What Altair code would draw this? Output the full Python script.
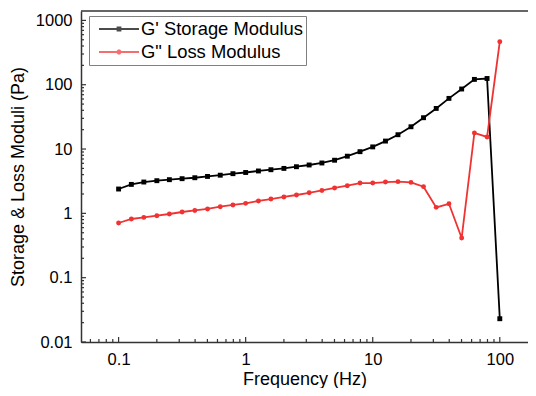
import altair as alt
import pandas as pd

# ---- data ----
freq = [0.1, 0.126, 0.158, 0.2, 0.251, 0.316, 0.398, 0.501, 0.631, 0.794,
        1.0, 1.26, 1.58, 2.0, 2.51, 3.16, 3.98, 5.01, 6.31, 7.94,
        10.0, 12.6, 15.8, 20.0, 25.1, 31.6, 39.8, 50.1, 63.1, 79.4, 100.0]
g_storage = [2.39, 2.82, 3.07, 3.22, 3.34, 3.46, 3.58, 3.75, 3.92, 4.14,
             4.32, 4.56, 4.77, 5.0, 5.31, 5.65, 6.07, 6.70, 7.74, 9.10,
             10.8, 13.3, 16.7, 22.2, 30.7, 42.8, 61.3, 85.8, 121.0, 125.0, 0.023]
g_loss = [0.708, 0.817, 0.865, 0.92, 0.977, 1.05, 1.11, 1.17, 1.27, 1.35,
          1.43, 1.56, 1.67, 1.80, 1.93, 2.09, 2.27, 2.48, 2.69, 2.96,
          2.96, 3.07, 3.11, 3.03, 2.60, 1.24, 1.41, 0.414, 17.8, 15.4, 467.0]
series_names = ["G' Storage Modulus", 'G" Loss Modulus']
series_colors = ["#000000", "#f03232"]

x_labels = [0.1, 1, 10, 100]
y_labels = [0.01, 0.1, 1, 10, 100, 1000]
x_minor = [0.06, 0.07, 0.08, 0.09] + [m * 0.1 for m in range(2, 10)] + \
          [m * 1.0 for m in range(2, 10)] + [m * 10.0 for m in range(2, 10)]
y_minor = [m * 10.0 ** e for e in range(-2, 3) for m in range(2, 10)]

W, H = 447, 331
FONT = "Liberation Sans"
AXC = "#333333"

df = pd.DataFrame({
    "f": freq + freq,
    "v": g_storage + g_loss,
    "series": [series_names[0]] * len(freq) + [series_names[1]] * len(freq),
})

x_scale = alt.Scale(type="log", domain=[0.0506, 166.7], nice=False)
y_scale = alt.Scale(type="log", domain=[0.01, 1400], nice=False)

x_axis = alt.Axis(values=x_labels, format="~g", ticks=False, grid=False,
                  domainColor=AXC, domainWidth=1.5,
                  labelFont=FONT, labelFontSize=16.5, labelColor="black", labelPadding=9,
                  title="Frequency (Hz)", titleFont=FONT, titleFontSize=18,
                  titleFontWeight="normal", titleColor="black", titlePadding=3)
y_axis = alt.Axis(values=y_labels, format="~g", ticks=False, grid=False,
                  domainColor=AXC, domainWidth=1.5,
                  labelFont=FONT, labelFontSize=16.5, labelColor="black", labelPadding=9,
                  title="Storage & Loss Moduli (Pa)", titleFont=FONT, titleFontSize=18,
                  titleFontWeight="normal", titleColor="black", titlePadding=8)

X = alt.X("f:Q", scale=x_scale, axis=x_axis)
Y = alt.Y("v:Q", scale=y_scale, axis=y_axis)

layers = []
shapes = ["square", "circle"]
for name, col, shp in zip(series_names, series_colors, shapes):
    layers.append(
        alt.Chart(df).transform_filter(alt.datum.series == name)
        .mark_line(color=col, strokeWidth=1.8,
                   point=alt.OverlayMarkDef(shape=shp, filled=True, size=24, color=col))
        .encode(x=X, y=Y)
    )

# inward ticks
def xticks(vals, ln):
    return alt.Chart(pd.DataFrame({"f": vals})).mark_rule(color=AXC, strokeWidth=1.2).encode(
        x=X, y=alt.value(H), y2=alt.value(H - ln))

def yticks(vals, ln):
    return alt.Chart(pd.DataFrame({"v": vals})).mark_rule(color=AXC, strokeWidth=1.2).encode(
        y=Y, x=alt.value(0), x2=alt.value(ln))

layers += [xticks(x_labels, 5), xticks(x_minor, 3), yticks(y_labels, 5), yticks(y_minor, 3)]

# top frame line
layers.append(alt.Chart(df.head(1)).mark_rule(color=AXC, strokeWidth=1.5).encode(
    x=alt.value(0), x2=alt.value(W), y=alt.value(0)))

# legend carrier (no visible marks)
sq_path = "M-2.286,0H2.286M-0.17,-0.17H0.17V0.17H-0.17Z"
ci_path = ("M-2.286,0H2.286M0.176,0.073L0.073,0.176L-0.073,0.176L-0.176,0.073"
           "L-0.176,-0.073L-0.073,-0.176L0.073,-0.176L0.176,-0.073Z")
leg = alt.Legend(title=None, orient="none", legendX=8, legendY=5, direction="vertical",
                 strokeColor="#808080", fillColor="white", padding=3,
                 symbolSize=306, symbolStrokeWidth=1.8, symbolOffset=17,
                 rowPadding=3, labelLimit=400,
                 labelFont=FONT, labelFontSize=18.4, labelColor="black", labelOffset=12)
layers.append(
    alt.Chart(df).transform_filter("datum.f < 0").mark_point(filled=False, strokeWidth=1.8)
    .encode(x=X, y=Y,
            color=alt.Color("series:N", scale=alt.Scale(domain=series_names, range=series_colors), legend=leg),
            shape=alt.Shape("series:N", scale=alt.Scale(domain=series_names, range=[sq_path, ci_path]), legend=leg))
)

chart = alt.layer(*layers).properties(
    width=W, height=H,
    autosize=alt.AutoSizeParams(type="none"),
    padding={"left": 73, "top": 3, "right": 0, "bottom": 46},
).configure_view(stroke=None)

chart.save("out.html", embed_options={"renderer": "svg", "actions": False})
